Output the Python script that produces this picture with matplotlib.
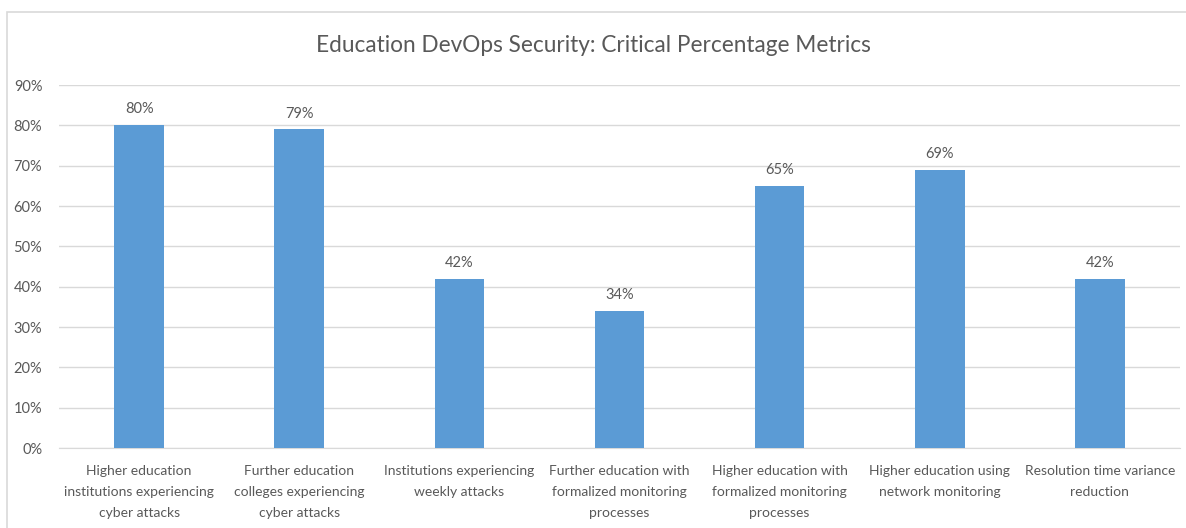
import matplotlib
matplotlib.use("Agg")
import matplotlib.pyplot as plt
from matplotlib.patches import Rectangle

# ── data ─────────────────────────────────────────────────────────────────────
categories = [
    "Higher education\ninstitutions experiencing\ncyber attacks",
    "Further education\ncolleges experiencing\ncyber attacks",
    "Institutions experiencing\nweekly attacks",
    "Further education with\nformalized monitoring\nprocesses",
    "Higher education with\nformalized monitoring\nprocesses",
    "Higher education using\nnetwork monitoring",
    "Resolution time variance\nreduction",
]
values = [80, 79, 42, 34, 65, 69, 42]
y_ticks = [0, 10, 20, 30, 40, 50, 60, 70, 80, 90]

BAR = "#5B9BD5"
TEXT = "#595959"
GRID = "#D9D9D9"

plt.rcParams["font.family"] = ["Lato", "DejaVu Sans"]

fig = plt.figure(figsize=(11.86, 5.28), dpi=100)
ax = fig.add_axes([59 / 1186, 0.1515, 1121 / 1186, 0.6875])

# chart border
fig.patches.append(Rectangle((7 / 1186, -0.1), 1.2, (528 - 12) / 528 + 0.1,
                             transform=fig.transFigure, fill=False,
                             edgecolor=GRID, linewidth=1.2))

x = range(len(categories))
ax.bar(x, values, width=0.31, color=BAR, zorder=3)
for xi, v in zip(x, values):
    ax.text(xi, v + 2.2, f"{v}%", ha="center", va="bottom",
            fontsize=10.5, color=TEXT)

ax.set_xlim(-0.5, len(categories) - 0.5)
ax.set_ylim(0, 90)
ax.set_yticks(y_ticks)
ax.set_yticklabels([f"{t}%" for t in y_ticks], fontsize=10.5, color=TEXT)
ax.set_xticks(list(x))
ax.set_xticklabels(categories, fontsize=10, color=TEXT, linespacing=1.93)
ax.tick_params(axis="both", length=0)
ax.tick_params(axis="y", pad=12)
ax.tick_params(axis="x", pad=12)
ax.yaxis.grid(True, color=GRID, linewidth=1, zorder=0)
for side in ["top", "right", "left"]:
    ax.spines[side].set_visible(False)
ax.spines["bottom"].set_color(GRID)

fig.text(0.5, (528 - 46) / 528, "Education DevOps Security: Critical Percentage Metrics",
         ha="center", va="center", fontsize=16.3, color=TEXT)

plt.savefig("out.png", dpi=100)
